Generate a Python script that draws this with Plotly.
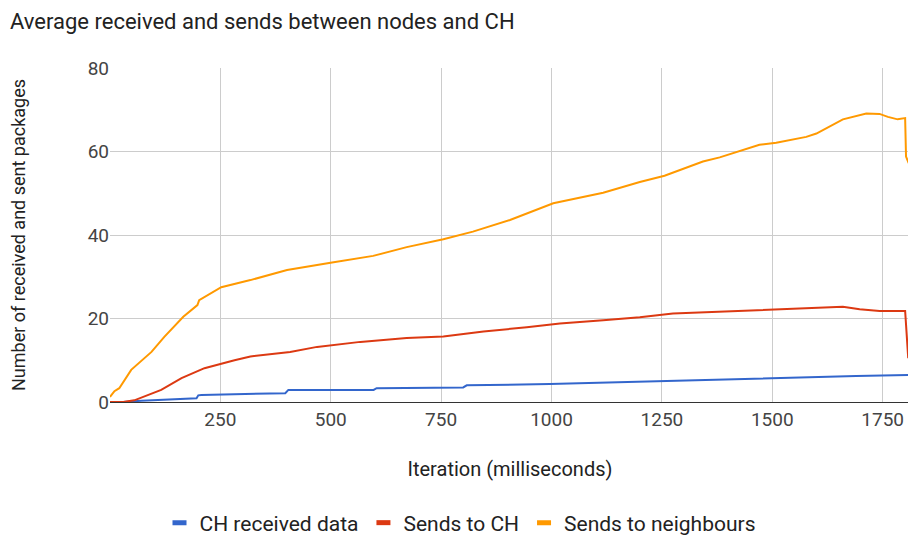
import plotly.graph_objects as go

# Sends to neighbours (orange)
nb_x = [0, 10, 21, 48, 94, 123, 166, 198, 202, 252, 318, 401, 503, 596, 672, 755, 822, 906, 1004, 1117,
        1200, 1256, 1343, 1381, 1471, 1509, 1577, 1600, 1660, 1713, 1743, 1762, 1784, 1801, 1803, 1809]
nb_y = [1.2, 2.6, 3.3, 7.7, 12.0, 15.6, 20.4, 23.2, 24.4, 27.5, 29.2, 31.6, 33.4, 35.0, 37.1, 39.0, 40.8, 43.6, 47.6, 50.1,
        52.7, 54.2, 57.6, 58.6, 61.6, 62.1, 63.5, 64.3, 67.7, 69.1, 69.0, 68.3, 67.7, 68.0, 58.8, 57.2]

# Sends to CH (red)
ch_x = [0, 30, 55, 116, 162, 214, 282, 318, 408, 469, 567, 672, 755, 846, 944, 1019, 1117, 1200, 1275,
        1381, 1501, 1577, 1660, 1698, 1743, 1801, 1803, 1808]
ch_y = [0.0, 0.0, 0.4, 2.9, 5.7, 8.1, 10.0, 10.9, 12.0, 13.2, 14.4, 15.3, 15.7, 16.9, 17.9, 18.8, 19.6, 20.3, 21.2,
        21.6, 22.2, 22.4, 22.8, 22.2, 21.8, 21.8, 18.8, 10.5]

# CH received data (blue)
rc_x = [0, 30, 71, 196, 200, 207, 397, 404, 597, 604, 800, 808, 996, 1200, 1501, 1690, 1809]
rc_y = [0.0, 0.0, 0.3, 0.9, 1.6, 1.7, 2.1, 2.9, 2.9, 3.3, 3.5, 4.0, 4.3, 4.9, 5.7, 6.2, 6.5]

series_names = ["CH received data", "Sends to CH", "Sends to neighbours"]
series_colors = ["#3366cc", "#dc3912", "#ff9900"]

x_ticks = [250, 500, 750, 1000, 1250, 1500, 1750]
y_ticks = [0, 20, 40, 60, 80]

fig = go.Figure()
for xs, ys, name, col in zip([rc_x, ch_x, nb_x], [rc_y, ch_y, nb_y], series_names, series_colors):
    fig.add_trace(go.Scatter(x=xs, y=ys, mode="lines", name=name, showlegend=False,
                             line=dict(color=col, width=2), cliponaxis=False))
# legend-only entries with short bar symbols
for name, col in zip(series_names, series_colors):
    fig.add_trace(go.Scatter(x=[None], y=[None], mode="markers", name=name,
                             marker=dict(symbol="line-ew", size=10,
                                         line=dict(color=col, width=5))))

W, H = 908, 532  # page body has an 8px margin

fig.update_layout(
    width=W, height=H,
    paper_bgcolor="white", plot_bgcolor="white",
    font=dict(family="Roboto, Arial, sans-serif", color="#222222"),
    margin=dict(l=102, r=6, t=60, b=138, autoexpand=False),
    title=dict(text="Average received and sends between nodes and CH",
               x=2/W, xref="container", xanchor="left",
               y=1-6/H, yref="container", yanchor="top",
               font=dict(size=22, color="#222222")),
    showlegend=True,
    legend=dict(orientation="h", xref="container", yref="container",
                x=452/W, xanchor="center", y=1-515/H, yanchor="middle",
                font=dict(size=21, color="#222222"), itemwidth=30),
    xaxis=dict(range=[0, 1812], tickvals=x_ticks, showgrid=True, gridcolor="#cccccc",
               zeroline=False, showline=True, linecolor="#333333", linewidth=1,
               automargin=False,
               tickfont=dict(size=19, color="#444444"), ticks="",
               title=dict(text="Iteration (milliseconds)", font=dict(size=20, color="#222222"), standoff=32)),
    yaxis=dict(range=[0, 80], tickvals=y_ticks, showgrid=True, gridcolor="#cccccc",
               zeroline=False, showline=False, automargin=False,
               tickfont=dict(size=19, color="#444444"), ticks="",
               title=dict(text="Number of received and sent packages", font=dict(size=18, color="#222222"), standoff=57)),
)

fig.write_html("out.html")
